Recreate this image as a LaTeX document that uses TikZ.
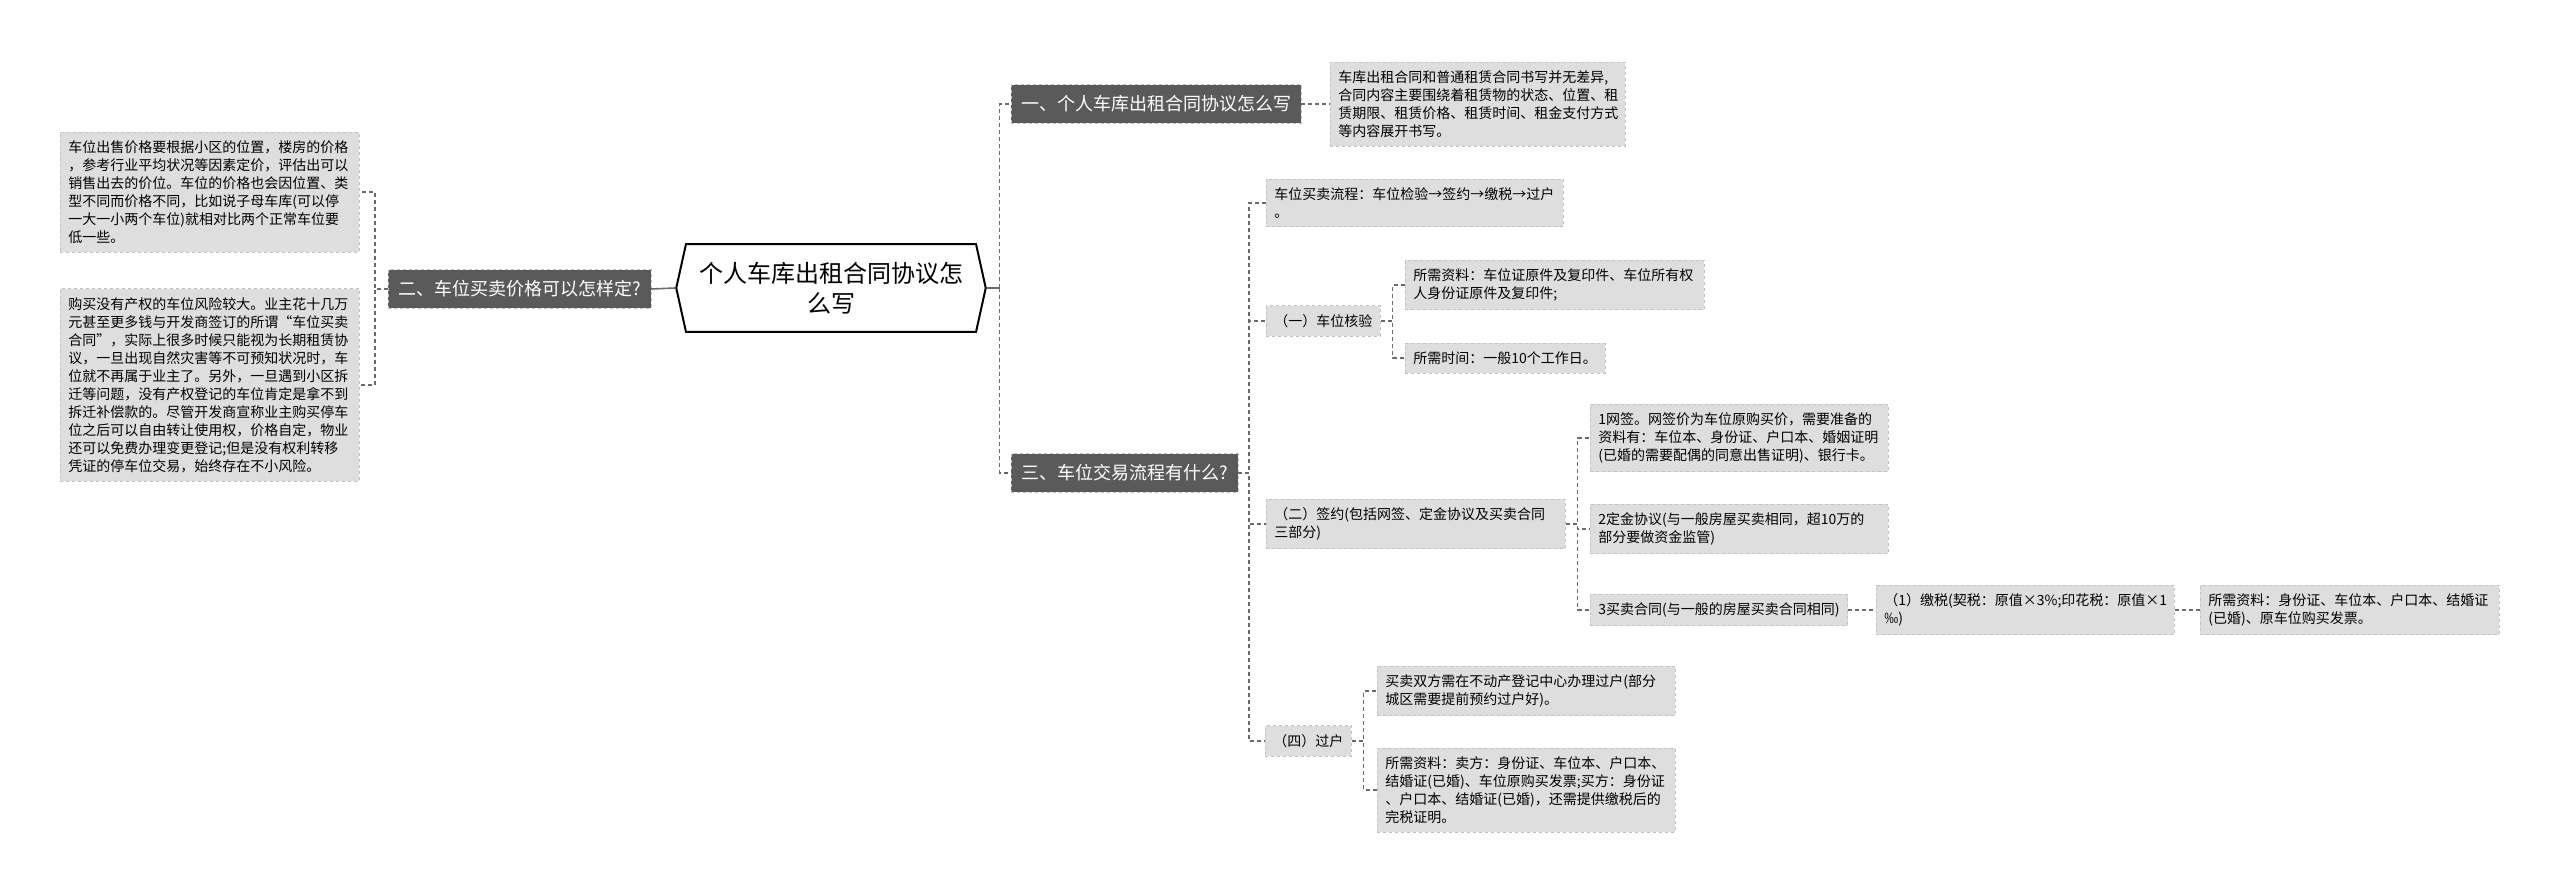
\documentclass[tikz,border=0pt]{standalone}
\usepackage{fontspec}
\setmainfont{Noto Sans CJK SC}
\usetikzlibrary{shapes.symbols}

\definecolor{leaffill}{HTML}{DEDEDE}
\definecolor{leafline}{HTML}{C2C2C2}
\definecolor{topicfill}{HTML}{5A5A5A}
\definecolor{linkgray}{HTML}{6A6A6A}

\newcommand*{\leafwd}{283pt}
\newcommand*{\pgwd}{2560}
\newcommand*{\pght}{895}

\begin{document}
\begin{tikzpicture}
[
	x=1pt, y=-1pt,
	rootnode/.style={signal,signal to=east and west,signal pointer angle=155,draw,line width=2pt,fill=white,align=center,inner xsep=13pt,inner ysep=18pt,font=\fontsize{24}{30}\selectfont},
	topic/.style={draw=leafline,dashed,fill=topicfill,text=white,inner xsep=10pt,inner ysep=11pt,font=\fontsize{18}{22}\selectfont},
	leaf/.style={draw=leafline,dashed,line width=0.8pt,fill=leaffill,align=left,inner xsep=8pt,inner ysep=8.5pt,font=\fontsize{14}{18}\selectfont},
	wide/.style={leaf,text width=\leafwd},
	link/.style={linkgray,line width=1.2pt,dash pattern=on 4pt off 3pt},
	rootlink/.style={linkgray,line width=1.6pt}
]

	\useasboundingbox (0,0) rectangle (\pgwd,\pght);

	% root
	\node[rootnode] at (831,288) (root) {个人车库出租合同协议怎\\么写};

	% topics
	\node[topic,anchor=west] at (1011,104) (one) {一、个人车库出租合同协议怎么写};
	\node[topic,anchor=east] at (651,289) (two) {二、车位买卖价格可以怎样定?};
	\node[topic,anchor=west] at (1011,473) (three) {三、车位交易流程有什么?};

	% one
	\node[wide,anchor=west,text width=279pt] at (1330,104) (onea) {车库出租合同和普通租赁合同书写并无差异,\\合同内容主要围绕着租赁物的状态、位置、租\\赁期限、租赁价格、租赁时间、租金支付方式\\等内容展开书写。};

	% two
	\node[wide,anchor=west] at (60,192) (twoa) {车位出售价格要根据小区的位置，楼房的价格\\，参考行业平均状况等因素定价，评估出可以\\销售出去的价位。车位的价格也会因位置、类\\型不同而价格不同，比如说子母车库(可以停\\一大一小两个车位)就相对比两个正常车位要\\低一些。};
	\node[wide,anchor=west] at (60,385) (twob) {购买没有产权的车位风险较大。业主花十几万\\元甚至更多钱与开发商签订的所谓“车位买卖\\合同”，实际上很多时候只能视为长期租赁协\\议，一旦出现自然灾害等不可预知状况时，车\\位就不再属于业主了。另外，一旦遇到小区拆\\迁等问题，没有产权登记的车位肯定是拿不到\\拆迁补偿款的。尽管开发商宣称业主购买停车\\位之后可以自由转让使用权，价格自定，物业\\还可以免费办理变更登记;但是没有权利转移\\凭证的停车位交易，始终存在不小风险。};

	% three
	\node[wide,anchor=west,text width=281pt] at (1266,203) (flow) {车位买卖流程：车位检验→签约→缴税→过户\\。};
	\node[leaf,anchor=west] at (1266,321) (check) {（一）车位核验};
	\node[wide,anchor=west] at (1405,285) (checka) {所需资料：车位证原件及复印件、车位所有权\\人身份证原件及复印件;};
	\node[leaf,anchor=west] at (1405,358) (checkb) {所需时间：一般10个工作日。};

	\node[wide,anchor=west] at (1266,524) (sign) {（二）签约(包括网签、定金协议及买卖合同\\三部分)};
	\node[wide,anchor=west,text width=282pt] at (1590,438) (signa) {1网签。网签价为车位原购买价，需要准备的\\资料有：车位本、身份证、户口本、婚姻证明\\(已婚的需要配偶的同意出售证明)、银行卡。};
	\node[wide,anchor=west,text width=282pt] at (1590,529) (signb) {2定金协议(与一般房屋买卖相同，超10万的\\部分要做资金监管)};
	\node[leaf,anchor=west] at (1590,610) (signc) {3买卖合同(与一般的房屋买卖合同相同)};
	\node[wide,anchor=west,text width=282pt] at (1876,610) (tax) {（1）缴税(契税：原值×3\%;印花税：原值×1\\‰)};
	\node[wide,anchor=west] at (2200,610) (taxa) {所需资料：身份证、车位本、户口本、结婚证\\(已婚)、原车位购买发票。};

	\node[leaf,anchor=west] at (1265,741) (transfer) {（四）过户};
	\node[wide,anchor=west,text width=282pt] at (1377,691) (transfera) {买卖双方需在不动产登记中心办理过户(部分\\城区需要提前预约过户好)。};
	\node[wide,anchor=west,text width=282pt] at (1377,790) (transferb) {所需资料：卖方：身份证、车位本、户口本、\\结婚证(已婚)、车位原购买发票;买方：身份证\\、户口本、结婚证(已婚)，还需提供缴税后的\\完税证明。};

	% links from root
	\draw[rootlink] (root.west) -- (two.east);
	\draw[rootlink] (root.east) -- ++(13,0) coordinate (spine);
	\foreach \c in {one,three} {
		\draw[link] (spine) |- (\c.west);
	}

	% links inside branches
	\foreach \c in {twoa,twob} {
		\draw[link] (two.west) -- ++(-13,0) |- (\c.east);
	}
	\draw[link] (one.east) -- (onea.west);
	\foreach \c in {flow,check,sign,transfer} {
		\draw[link] (three.east) -- ++(11,0) |- (\c.west);
	}
	\foreach \c in {checka,checkb} {
		\draw[link] (check.east) -- ++(12,0) |- (\c.west);
	}
	\foreach \c in {signa,signb,signc} {
		\draw[link] (sign.east) -- ++(12,0) |- (\c.west);
	}
	\draw[link] (signc.east) -- (tax.west);
	\draw[link] (tax.east) -- (taxa.west);
	\foreach \c in {transfera,transferb} {
		\draw[link] (transfer.east) -- ++(12,0) |- (\c.west);
	}

\end{tikzpicture}
\end{document}
